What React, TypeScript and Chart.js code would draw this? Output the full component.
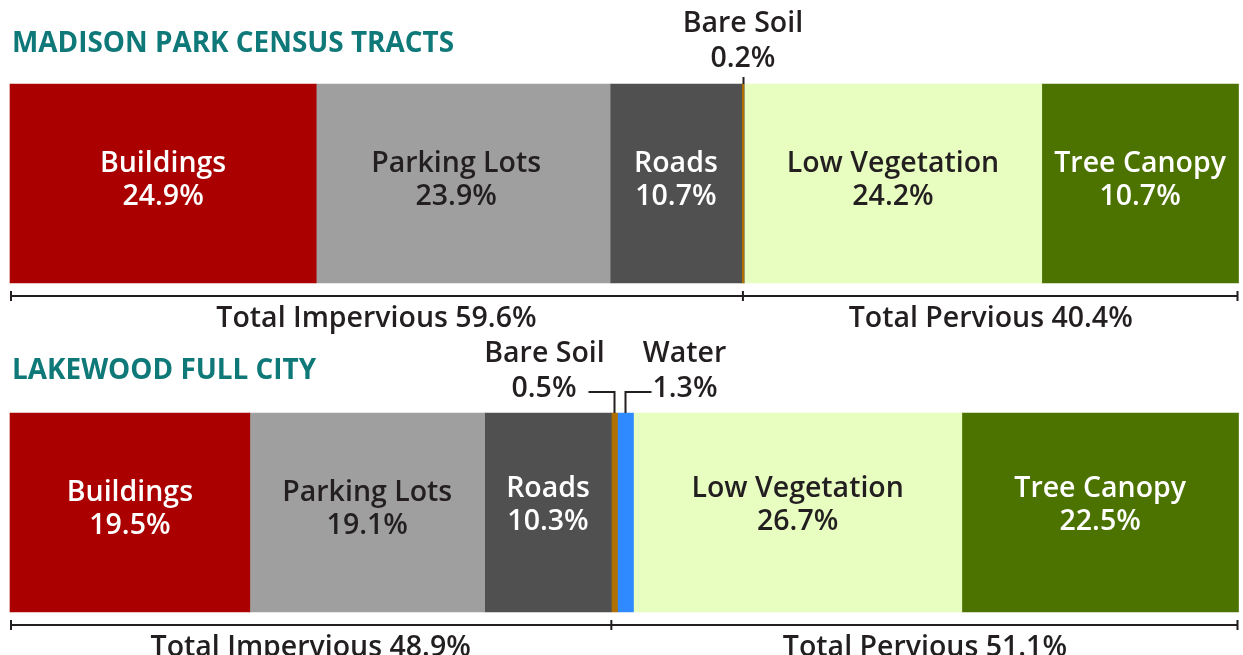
import React, { useEffect, useRef } from "react";
import { Chart, registerables } from "chart.js";

Chart.register(...registerables);

const groups = ["MADISON PARK CENSUS TRACTS", "LAKEWOOD FULL CITY"];
const classes = ["Buildings", "Parking Lots", "Roads", "Bare Soil", "Water", "Low Vegetation", "Tree Canopy"];
const madisonValues = [24.9, 23.9, 10.7, 0.2, 0, 24.2, 16.0];
const lakewoodValues = [19.5, 19.1, 10.3, 0.5, 1.3, 26.7, 22.5];
const madisonLabels = ["24.9%", "23.9%", "10.7%", "0.2%", "", "24.2%", "10.7%"];
const lakewoodLabels = ["19.5%", "19.1%", "10.3%", "0.5%", "1.3%", "26.7%", "22.5%"];
const imperviousTotals = [59.6, 48.9];
const perviousTotals = [40.4, 51.1];
const scaleMax = 99.9;

const colors = ["#AA0000", "#9F9F9F", "#505050", "#B07000", "#2F8AFF", "#E8FDC0", "#4C7300"];
const textColors = ["#FFFFFF", "#231F20", "#FFFFFF", "#231F20", "#231F20", "#231F20", "#FFFFFF"];
const DARK = "#231F20";
const TEAL = "#0F7878";
const FONT = '"Open Sans", "Noto Sans", sans-serif';

const labelPlugin = {
  id: "labels",
  afterDraw(chart: any) {
    const ctx = chart.ctx as CanvasRenderingContext2D;
    const xs = chart.scales.x;
    const allLabels = [madisonLabels, lakewoodLabels];
    ctx.save();
    // titles
    ctx.font = `700 27.9px ${FONT}`;
    ctx.fillStyle = TEAL;
    ctx.textAlign = "left";
    ctx.textBaseline = "alphabetic";
    const titleBase = [52, 379];
    groups.forEach((g, i) => ctx.fillText(g, 12, titleBase[i]));

    ctx.font = `600 28.5px ${FONT}`;
    for (let bi = 0; bi < 2; bi++) {
      let top = 0, bottom = 0;
      for (let d = 0; d < classes.length; d++) {
        const el: any = chart.getDatasetMeta(d).data[bi];
        const val = chart.data.datasets[d].data[bi];
        if (!el || !val) continue;
        const left = Math.min(el.x, el.base);
        const right = Math.max(el.x, el.base);
        const cx = (left + right) / 2;
        top = el.y - el.height / 2;
        bottom = el.y + el.height / 2;
        const pct = allLabels[bi][d];
        const name = classes[d];
        if (right - left > 60) {
          const lift = bi === 1 && (d === 2 || d === 5 || d === 6) ? 4 : 0;
          const shift = bi === 0 && d === 1 ? -7 : 0;
          ctx.fillStyle = textColors[d];
          ctx.textAlign = "center";
          ctx.textBaseline = "alphabetic";
          ctx.fillText(name, cx + shift, el.y - 12 - lift);
          ctx.fillText(pct, cx + shift, el.y + 21.5 - lift);
        } else {
          ctx.fillStyle = DARK;
          ctx.strokeStyle = DARK;
          ctx.lineWidth = 2;
          const px = Math.round(cx) + 0.5;
          if (bi === 0) {
            ctx.textAlign = "center";
            ctx.fillText(name, cx, top - 52);
            ctx.fillText(pct, cx, top - 17);
            ctx.beginPath();
            ctx.moveTo(px, top - 7);
            ctx.lineTo(px, top);
            ctx.stroke();
          } else {
            const ly = top - 21;
            const dir = d === 3 ? -1 : 1;
            ctx.beginPath();
            ctx.moveTo(px, top);
            ctx.lineTo(px, ly);
            ctx.lineTo(px + dir * 26, ly);
            ctx.stroke();
            ctx.textAlign = dir < 0 ? "right" : "left";
            ctx.fillText(pct, px + dir * 38 + (dir < 0 ? 0 : -11), top - 16);
            ctx.textAlign = "center";
            ctx.fillText(name, dir < 0 ? px - 70 : px + 59, top - 51);
          }
        }
      }
      // bracket
      const by = Math.round(bottom + 13);
      const x0 = xs.getPixelForValue(0);
      const xm = xs.getPixelForValue(imperviousTotals[bi]);
      const x1 = xs.getPixelForValue(scaleMax);
      ctx.strokeStyle = DARK;
      ctx.lineWidth = 2;
      ctx.beginPath();
      ctx.moveTo(x0, by);
      ctx.lineTo(x1, by);
      [x0 + 1, xm, x1 - 1].forEach((tx) => {
        ctx.moveTo(tx, by - 5);
        ctx.lineTo(tx, by + 5);
      });
      ctx.stroke();
      ctx.fillStyle = DARK;
      ctx.textAlign = "center";
      ctx.fillText(`Total Impervious ${imperviousTotals[bi]}%`, (x0 + xm) / 2, by + 31);
      ctx.fillText(`Total Pervious ${perviousTotals[bi]}%`, (xm + x1) / 2, by + 31);
    }
    ctx.restore();
  },
};

export default function App() {
  const ref = useRef<HTMLCanvasElement | null>(null);
  useEffect(() => {
    document.body.style.margin = "0";
    const canvas = ref.current;
    if (!canvas) return;
    const chart = new Chart(canvas, {
      type: "bar",
      data: {
        labels: groups,
        datasets: classes.map((c, i) => ({
          label: c,
          data: [madisonValues[i], lakewoodValues[i]],
          backgroundColor: colors[i],
          borderWidth: 0,
          barThickness: 199,
          clip: false as any,
        })),
      },
      options: {
        indexAxis: "y",
        responsive: false,
        animation: false,
        layout: { padding: { left: 10, right: 4.5, top: 183.5, bottom: 142.5 } },
        scales: {
          x: { stacked: true, min: 0, max: scaleMax, display: false },
          y: { stacked: true, offset: false, display: false },
        },
        plugins: { legend: { display: false }, tooltip: { enabled: false } },
      },
      plugins: [labelPlugin],
    });
    return () => chart.destroy();
  }, []);
  return (
    <div style={{ position: "absolute", left: 0, top: 0, width: 1243, height: 655, background: "#fff" }}>
      <canvas ref={ref} width={1243} height={655} style={{ display: "block" }} />
    </div>
  );
}
